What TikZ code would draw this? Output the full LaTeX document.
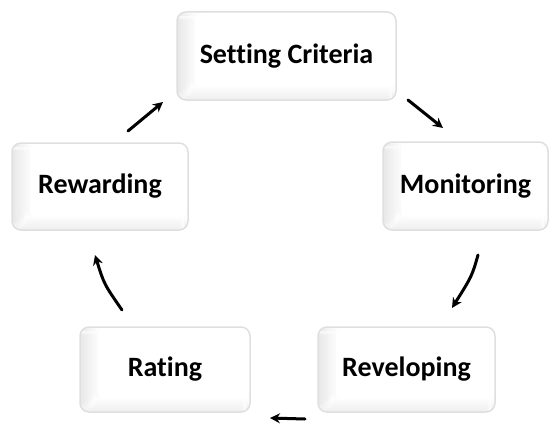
\documentclass[tikz,border=0pt]{standalone}
\usepackage{fontspec}
\setmainfont[Ligatures=NoCommon]{Carlito}
\usetikzlibrary{arrows.meta}
\tikzset{
  keybox/.style={draw=gray!25, line width=1.5pt, fill=white, rounded corners=9pt,
    font=\fontsize{28}{32}\selectfont\bfseries, text=black, inner sep=0pt,
    path picture={
      \foreach \i in {0,...,9}{
        \pgfmathsetmacro{\gv}{18-1.8*\i}
        \fill[gray!\gv] ([xshift=2*\i pt]path picture bounding box.south west) rectangle ([xshift=2*\i pt+2.2pt]path picture bounding box.north west);
      }
      \foreach \i in {0,...,6}{
        \pgfmathsetmacro{\gv}{12-1.7*\i}
        \fill[gray!\gv] ([xshift=2*\i pt+2pt,yshift=2*\i pt]path picture bounding box.south west) rectangle ([yshift=2*\i pt+2.2pt]path picture bounding box.south east);
      }
      \fill[white, rounded corners=6pt] ([xshift=18pt,yshift=13pt]path picture bounding box.south west) rectangle ([xshift=-3pt,yshift=-4pt]path picture bounding box.north east);
    }},
  flow/.style={line width=3pt, black, line cap=round,
    -{Stealth[length=10pt,width=10pt]}}
}
\begin{document}
\begin{tikzpicture}[x=1pt,y=1pt]
\useasboundingbox (0,0) rectangle (553,424);
\node[keybox, minimum width=219pt, minimum height=88pt] (sc) at (286.5,368) {\raisebox{-2pt}{Setting Criteria}};
\node[keybox, minimum width=165pt, minimum height=88pt] (mon) at (465.5,238) {\raisebox{-2pt}{Monitoring}};
\node[keybox, minimum width=176pt, minimum height=87pt] (rew) at (100,237.5) {\raisebox{-2pt}{Rewarding}};
\node[keybox, minimum width=170pt, minimum height=85pt] (rat) at (165,54.5) {\raisebox{-2pt}{Rating}};
\node[keybox, minimum width=177pt, minimum height=85pt] (rev) at (406.5,54.5) {\raisebox{-2pt}{Reveloping}};
% arrow end points
\coordinate (a1s) at (128,293);
\coordinate (a1e) at (163,322);
\coordinate (a2s) at (408,324);
\coordinate (a2e) at (443,296);
\coordinate (a3s) at (478,169);
\coordinate (a3e) at (452,116);
\coordinate (a4s) at (305,5);
\coordinate (a4e) at (270,6);
\coordinate (a5s) at (122,114);
\coordinate (a5e) at (95,169);
\draw[flow] (a1s) -- (a1e);
\draw[flow] (a2s) -- (a2e);
\draw[flow] (a3s) .. controls (472,148) .. (a3e);
\draw[flow] (a4s) -- (a4e);
\draw[flow] (a5s) .. controls (104,140) .. (a5e);
\end{tikzpicture}
\end{document}
